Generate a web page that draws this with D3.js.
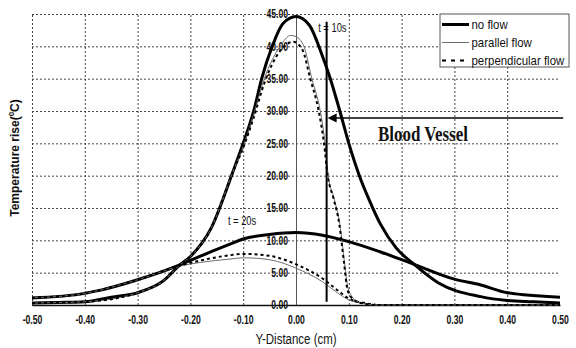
<!DOCTYPE html>
<html>
<head>
<meta charset="utf-8">
<script src="https://cdnjs.cloudflare.com/ajax/libs/d3/7.8.5/d3.min.js"></script>
<style>
  body { margin: 0; background: #fff; }
  svg { display: block; font-family: "Liberation Sans", Arial, sans-serif; }
</style>
</head>
<body>
<div id="chart"></div>
<script>
'use strict';

// x values (cm) and temperature rise (C) for each curve
const noFlow10X = [-0.50, -0.45, -0.40, -0.35, -0.30, -0.25, -0.22, -0.20, -0.16, -0.12, -0.10, -0.08, -0.065, -0.045, -0.025, 0.00, 0.025, 0.05, 0.065, 0.083, 0.10, 0.12, 0.14, 0.16, 0.19, 0.225, 0.27, 0.35, 0.40, 0.45, 0.50];
const noFlow10Y = [0.3, 0.4, 0.5, 1.2, 1.9, 3.8, 6.2, 7.5, 12.0, 20.5, 25.0, 30.0, 35.0, 40.0, 43.5, 44.6, 43.3, 38.5, 35.0, 30.0, 25.0, 20.0, 16.0, 12.5, 8.8, 6.2, 3.4, 1.3, 0.7, 0.5, 0.3];

const parallel10X = [-0.50, -0.40, -0.30, -0.25, -0.22, -0.20, -0.16, -0.12, -0.10, -0.08, -0.06, -0.03, -0.01, 0.00, 0.015, 0.03, 0.046, 0.055, 0.061, 0.072, 0.083, 0.092, 0.099, 0.115, 0.13, 0.15, 0.30, 0.50];
const parallel10Y = [0.3, 0.5, 1.9, 3.8, 6.2, 7.5, 12.0, 20.5, 24.5, 29.5, 35.0, 40.0, 41.7, 41.5, 40.0, 35.0, 30.0, 25.0, 20.0, 16.5, 12.5, 6.5, 2.5, 0.6, 0.2, 0.0, 0.0, 0.0];

const perp10X = [-0.50, -0.40, -0.30, -0.25, -0.22, -0.20, -0.16, -0.12, -0.10, -0.08, -0.06, -0.03, -0.005, 0.012, 0.027, 0.043, 0.053, 0.060, 0.071, 0.082, 0.091, 0.098, 0.113, 0.13, 0.15, 0.30, 0.50];
const perp10Y = [0.3, 0.5, 1.9, 3.8, 6.2, 7.5, 12.0, 20.5, 24.3, 29.0, 34.3, 39.3, 40.7, 39.5, 35.0, 30.0, 25.0, 20.0, 16.5, 12.5, 6.5, 2.2, 0.6, 0.2, 0.0, 0.0, 0.0];

const noFlow20X = [-0.50, -0.40, -0.37, -0.30, -0.22, -0.20, -0.15, -0.125, -0.10, -0.05, 0.00, 0.05, 0.10, 0.16, 0.22, 0.30, 0.35, 0.40, 0.50];
const noFlow20Y = [1.1, 1.8, 2.3, 3.9, 6.2, 6.9, 8.6, 9.4, 10.2, 10.9, 11.2, 10.8, 9.8, 8.2, 6.4, 4.0, 3.1, 1.9, 1.2];

const parallel20X = [-0.50, -0.40, -0.30, -0.22, -0.18, -0.125, -0.10, -0.05, 0.00, 0.05, 0.08, 0.10, 0.13, 0.16, 0.50];
const parallel20Y = [1.1, 1.8, 3.9, 6.0, 6.6, 7.1, 7.3, 7.0, 5.7, 3.6, 1.8, 0.8, 0.2, 0.0, 0.0];

const perp20X = [-0.50, -0.40, -0.30, -0.22, -0.18, -0.125, -0.10, -0.05, 0.00, 0.05, 0.08, 0.10, 0.13, 0.16, 0.50];
const perp20Y = [1.1, 1.8, 3.9, 6.1, 6.9, 7.7, 7.9, 7.6, 6.3, 4.1, 2.2, 1.0, 0.3, 0.0, 0.0];

const xTicks = [-0.5, -0.4, -0.3, -0.2, -0.1, 0, 0.1, 0.2, 0.3, 0.4, 0.5];
const yTicks = [0, 5, 10, 15, 20, 25, 30, 35, 40, 45];
const legendNames = ['no flow', 'parallel flow', 'perpendicular flow'];

// blood vessel marker and labels (data units)
const vesselX = 0.058;
const vesselRange = [0.5, 43.8];
const arrowY = 28.9;
const arrowFromX = 0.506;

const width = 576;
const height = 348;
const margin = { top: 14, right: 16, bottom: 43, left: 32 };

const styles = {
  noflow: { stroke: '#000', width: 3, dash: null },
  parallel: { stroke: '#6e6e6e', width: 1, dash: null },
  perp: { stroke: '#000', width: 2, dash: '3,3' }
};

const series = [
  { xs: noFlow20X, ys: noFlow20Y, style: styles.noflow },
  { xs: parallel20X, ys: parallel20Y, style: styles.parallel },
  { xs: perp20X, ys: perp20Y, style: styles.perp },
  { xs: noFlow10X, ys: noFlow10Y, style: styles.noflow },
  { xs: parallel10X, ys: parallel10Y, style: styles.parallel },
  { xs: perp10X, ys: perp10Y, style: styles.perp }
];

const svg = d3.select('#chart').append('svg')
  .attr('width', width)
  .attr('height', height);

const xScale = d3.scaleLinear()
  .domain([-0.5, 0.5])
  .range([margin.left, width - margin.right]);

const yScale = d3.scaleLinear()
  .domain([0, 45])
  .range([height - margin.bottom, margin.top]);

const plotH = yScale(0) - yScale(45);

// dotted grid
svg.append('g')
  .attr('class', 'grid-x')
  .attr('transform', `translate(0, ${yScale(0)})`)
  .call(d3.axisBottom(xScale).tickValues(xTicks.filter(d => d !== 0 && d !== 0.5)).tickSize(-plotH).tickFormat(''))
  .call(g => g.select('.domain').remove());

svg.append('g')
  .attr('class', 'grid-y')
  .attr('transform', `translate(${margin.left}, 0)`)
  .call(d3.axisLeft(yScale).tickValues(yTicks).tickSize(-(xScale(0.5) - margin.left)).tickFormat(''))
  .call(g => g.select('.domain').remove());

svg.selectAll('.grid-x line, .grid-y line')
  .attr('stroke', '#444')
  .attr('stroke-width', 1)
  .attr('stroke-dasharray', '2,2');

// vertical axis through x = 0
const yAxis = svg.append('g')
  .attr('transform', `translate(${xScale(0)}, 0)`)
  .call(d3.axisLeft(yScale).tickValues(yTicks).tickSize(0).tickFormat(d => d.toFixed(2)));

yAxis.select('.domain')
  .attr('stroke', '#555')
  .attr('stroke-width', 1);

yAxis.selectAll('text')
  .attr('font-size', 12)
  .attr('font-weight', 'bold')
  .attr('fill', '#111')
  .attr('font-family', '"Liberation Sans", Arial, sans-serif')
  .attr('x', -8 / 0.72)
  .attr('transform', 'scale(0.72,1)');

// horizontal axis
const xAxis = svg.append('g')
  .attr('transform', `translate(0, ${yScale(0)})`)
  .call(d3.axisBottom(xScale).tickValues(xTicks).tickSize(0).tickPadding(10).tickFormat(d => d.toFixed(2)));

xAxis.select('.domain')
  .attr('stroke', '#111')
  .attr('stroke-width', 1.5);

xAxis.selectAll('text')
  .attr('font-size', 12)
  .attr('font-weight', 'bold')
  .attr('fill', '#111')
  .attr('font-family', '"Liberation Sans", Arial, sans-serif')
  .attr('transform', 'scale(0.72,1)');

// curves
const line = d3.line()
  .curve(d3.curveMonotoneX)
  .x(d => xScale(d[0]))
  .y(d => yScale(d[1]));

series.forEach(function (s) {
  const pts = s.xs.map((x, i) => [x, s.ys[i]]);
  svg.append('path')
    .datum(pts)
    .attr('d', line)
    .attr('fill', 'none')
    .attr('stroke', s.style.stroke)
    .attr('stroke-width', s.style.width)
    .attr('stroke-dasharray', s.style.dash);
});

// blood vessel line and arrow
svg.append('line')
  .attr('x1', xScale(vesselX))
  .attr('x2', xScale(vesselX))
  .attr('y1', yScale(vesselRange[0]))
  .attr('y2', yScale(vesselRange[1]))
  .attr('stroke', '#000')
  .attr('stroke-width', 2);

const ax = xScale(vesselX) + 1;
const ay = yScale(arrowY);
svg.append('line')
  .attr('x1', xScale(arrowFromX))
  .attr('x2', ax + 6)
  .attr('y1', ay)
  .attr('y2', ay)
  .attr('stroke', '#000')
  .attr('stroke-width', 1.5);

svg.append('path')
  .attr('d', `M${ax},${ay} L${ax + 9},${ay - 4.5} L${ax + 9},${ay + 4.5} Z`)
  .attr('fill', '#000');

function label(x, y, txt, size, sx, opts) {
  opts = opts || {};
  return svg.append('text')
    .attr('transform', `translate(${x}, ${y}) scale(${sx},1)`)
    .attr('font-size', size)
    .attr('font-weight', opts.weight || 'normal')
    .attr('font-family', opts.family || '"Liberation Sans", Arial, sans-serif')
    .attr('text-anchor', opts.anchor || 'start')
    .attr('dominant-baseline', opts.baseline || 'auto')
    .attr('fill', '#111')
    .text(txt);
}

label(378, 140.5, 'Blood Vessel', 22, 0.77, { weight: 'bold', family: '"Liberation Serif", "Times New Roman", serif' });
label(xScale(0.042), yScale(42.9), 't = 10s', 12, 0.78, { baseline: 'central' });
label(xScale(-0.129), yScale(13.1), 't = 20s', 12, 0.78, { baseline: 'central' });

// axis titles
label(296, 344, 'Y-Distance (cm)', 14, 0.82, { anchor: 'middle' });

const yTitle = svg.append('text')
  .attr('transform', `translate(19, 158) rotate(-90)`)
  .attr('text-anchor', 'middle')
  .attr('font-size', 12)
  .attr('font-weight', 'bold')
  .attr('fill', '#111');
yTitle.append('tspan').text('Temperature rise(');
yTitle.append('tspan').attr('font-size', 8).attr('dy', -5).text('0');
yTitle.append('tspan').attr('dy', 5).text('C)');

// legend
const legend = svg.append('g')
  .attr('transform', 'translate(440, 14)');

legend.append('rect')
  .attr('width', 129)
  .attr('height', 53)
  .attr('fill', '#fff')
  .attr('stroke', '#555')
  .attr('stroke-width', 1);

const legendStyles = [styles.noflow, styles.parallel, { stroke: '#000', width: 2, dash: '4,5' }];
legendNames.forEach(function (name, i) {
  const ly = 10.5 + i * 18;
  legend.append('line')
    .attr('x1', 2)
    .attr('x2', 29)
    .attr('y1', ly)
    .attr('y2', ly)
    .attr('stroke', legendStyles[i].stroke)
    .attr('stroke-width', legendStyles[i].width)
    .attr('stroke-dasharray', legendStyles[i].dash);
  legend.append('text')
    .attr('transform', `translate(31.5, ${ly}) scale(0.88,1)`)
    .attr('dominant-baseline', 'central')
    .attr('font-size', 13)
    .attr('fill', '#111')
    .text(name);
});
</script>
</body>
</html>
